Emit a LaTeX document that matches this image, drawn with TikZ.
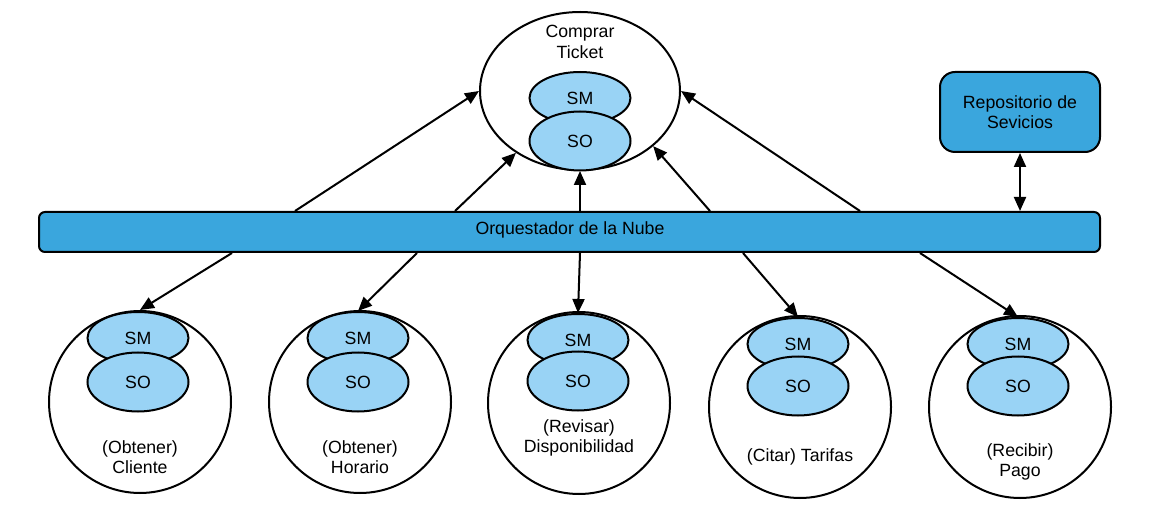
\documentclass[tikz,border=0pt]{standalone}
\usepackage{fontspec}
\setmainfont{Liberation Sans}
\usetikzlibrary{shapes.geometric,arrows.meta,calc}
\definecolor{darkblue}{HTML}{3AA6DD}
\definecolor{lightblue}{HTML}{99D3F5}
\begin{document}
\begin{tikzpicture}[x=1pt,y=-1pt,
  every node/.style={font=\fontsize{17.7}{20.5}\selectfont},
  outer/.style={circle, draw, line width=2pt, fill=white, minimum size=182pt, inner sep=0pt},
  topell/.style={ellipse, draw, line width=2pt, fill=white, minimum width=200pt, minimum height=158pt, inner sep=0pt},
  smell/.style={ellipse, draw, line width=2pt, fill=lightblue, minimum width=101pt, minimum height=52pt, inner sep=0pt},
  soell/.style={ellipse, draw, line width=2pt, fill=lightblue, minimum width=101pt, minimum height=59pt, inner sep=0pt},
  txt/.style={align=center, inner sep=0pt},
  arr/.style={-{Triangle[length=14pt,width=12pt]}, line width=2pt},
  darr/.style={{Triangle[length=14pt,width=12pt]}-{Triangle[length=14pt,width=12pt]}, line width=2pt}]
\useasboundingbox (0,0) rectangle (1161,510);
\fill[white] (0,0) rectangle (1161,510);

% top service
\node[topell] (top) at (580,91) {};
\node[txt] (toptxt) at (580,42) {Comprar\\Ticket};
\node[smell] (tsm) at (580,98) {SM};
\node[soell] (tso) at (580,141) {SO};

% repository
\node[draw, line width=2pt, fill=darkblue, rounded corners=15pt, minimum width=160pt, minimum height=80pt, align=center, inner sep=0pt] (repo) at (1020,112) {Repositorio de\\Sevicios};

% orchestrator bar
\node[draw, line width=2pt, fill=darkblue, rounded corners=6pt, minimum width=1061pt, minimum height=40pt, inner sep=0pt] (bar) at (569.5,232) {};
\node[inner sep=0pt] (bartxt) at (570,230) {Orquestador de la Nube};

% bottom services
\node[outer] (c1) at (140,402) {};
\node[smell] (sm1) at (138,338) {SM};
\node[soell] (so1) at (138,382) {SO};
\node[txt] (t1) at (140,457) {(Obtener)\\Cliente};

\node[outer] (c2) at (360,402) {};
\node[smell] (sm2) at (358,338) {SM};
\node[soell] (so2) at (358,382) {SO};
\node[txt] (t2) at (360,457) {(Obtener)\\Horario};

\node[outer] (c3) at (579,403) {};
\node[smell] (sm3) at (578,340) {SM};
\node[soell] (so3) at (578,381) {SO};
\node[txt] (t3) at (579,438) {(Revisar)\\Disponibilidad};

\node[outer] (c4) at (800,407) {};
\node[smell] (sm4) at (798,344) {SM};
\node[soell] (so4) at (798,386) {SO};
\node[txt] (t4) at (800,457) {(Citar) Tarifas};

\node[outer] (c5) at (1020,407) {};
\node[smell] (sm5) at (1018,344) {SM};
\node[soell] (so5) at (1018,386) {SO};
\node[txt] (t5) at (1020,462) {(Recibir)\\Pago};

% start points on bar
\coordinate (u1) at (295,0);
\coordinate (u2) at (455,0);
\coordinate (u3) at (580,0);
\coordinate (u4) at (710,0);
\coordinate (u5) at (860,0);
\coordinate (d1) at (232,0);
\coordinate (d2) at (417,0);
\coordinate (d3) at (580,0);
\coordinate (d4) at (743,0);
\coordinate (d5) at (920,0);

% arrows up
\draw[arr] (bar.north -| u1) -- (top.west);
\draw[arr] (bar.north -| u2) -- (top.224);
\draw[arr] (bar.north -| u3) -- (top.south);
\draw[arr] (bar.north -| u4) -- (top.323);
\draw[arr] (bar.north -| u5) -- (top.east);

% arrows down
\draw[arr] (bar.south -| d1) -- (c1.north);
\draw[arr] (bar.south -| d2) -- (sm2.north);
\draw[arr] (bar.south -| d3) -- (sm3.north);
\draw[arr] (bar.south -| d4) -- (sm4.north);
\draw[arr] (bar.south -| d5) -- (sm5.north);

% repository link
\draw[darr] (repo.south) -- (repo.south |- bar.north);
\end{tikzpicture}
\end{document}
